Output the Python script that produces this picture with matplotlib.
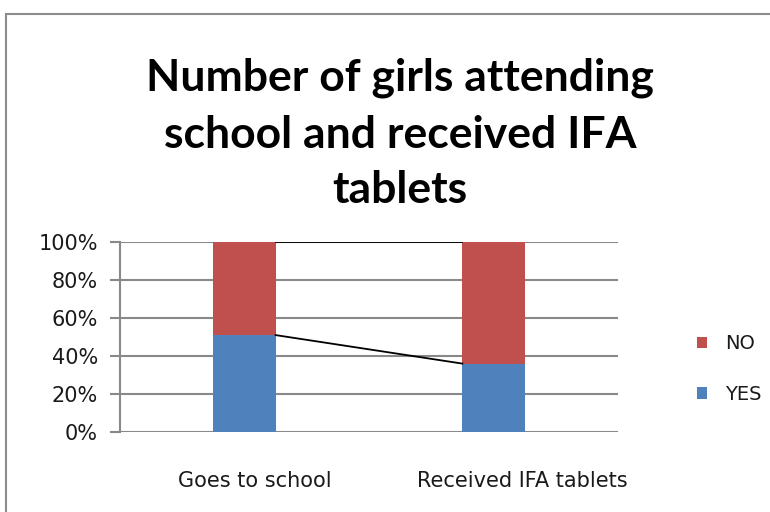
import numpy as np
import matplotlib.pyplot as plt
from matplotlib.patches import Rectangle
from matplotlib.transforms import ScaledTranslation

categories = ['Goes to school', 'Received IFA tablets']
yes = [51, 36]
no = [49, 64]
yticks = [0, 20, 40, 60, 80, 100]
title_lines = ['Number of girls attending', 'school and received IFA', 'tablets']

blue = '#4F81BD'
red = '#C0504D'
grid = '#898989'

plt.rcParams['font.family'] = ['DejaVu Sans']

fig = plt.figure(figsize=(7.7, 5.12), dpi=100)
ax = fig.add_axes([120/770, 1-432/512, 498/770, 190/512])

x = np.arange(len(categories))
w = 0.25
ax.bar(x, yes, w, color=blue, label='YES', zorder=3)
ax.bar(x, no, w, bottom=yes, color=red, label='NO', zorder=3)

# series lines between bars
tops_yes = np.array(yes)
tops_all = np.array(yes) + np.array(no)
ax.plot([x[0] + w/2, x[1] - w/2], tops_yes, color='black', lw=1.3, zorder=4)
ax.plot([x[0] + w/2, x[1] - w/2], tops_all, color='black', lw=1.3, zorder=4)

ax.set_xlim(-0.5, 1.5)
ax.set_ylim(0, 100)
ax.set_yticks(yticks)
ax.set_yticklabels([f'{t}%' for t in yticks], fontsize=15, color='#1a1a1a')
ax.set_xticks(x)
ax.set_xticklabels(categories, fontsize=15, color='#1a1a1a')
ax.tick_params(axis='x', length=0, pad=28)
ax.tick_params(axis='y', length=7, color=grid, width=1.5, pad=9)
ax.grid(axis='y', color=grid, lw=1.5, zorder=0)
for s in ['top', 'right', 'bottom']:
    ax.spines[s].set_visible(False)
ax.spines['left'].set_color(grid)
ax.spines['left'].set_linewidth(1.5)

# category labels sit a little right of the bar centres in the original
for lab, dx in zip(ax.get_xticklabels(), [10, 29]):
    lab.set_transform(lab.get_transform() + ScaledTranslation(dx/100, 0, fig.dpi_scale_trans))

handles, labels = ax.get_legend_handles_labels()
leg = fig.legend(handles[::-1], labels[::-1], loc='center left',
                 bbox_to_anchor=(679/770, 1-369/512), frameon=False, fontsize=14,
                 handlelength=0.55, handleheight=0.55, labelspacing=1.6,
                 handletextpad=0.9)
for t in leg.get_texts():
    t.set_color('#1a1a1a')

for i, (line, base) in enumerate(zip(title_lines, [90, 148, 203])):
    fig.text(400/770, 1-base/512, line, ha='center', va='baseline',
             fontsize=32, fontweight='bold', family=['Lato', 'DejaVu Sans'])

fig.patches.append(Rectangle((6/770, -0.1), 1.2, 1 - 14/512 + 0.1,
                             transform=fig.transFigure, fill=False,
                             edgecolor='#8c8c8c', lw=1.5))

fig.savefig('out.png', dpi=100)
